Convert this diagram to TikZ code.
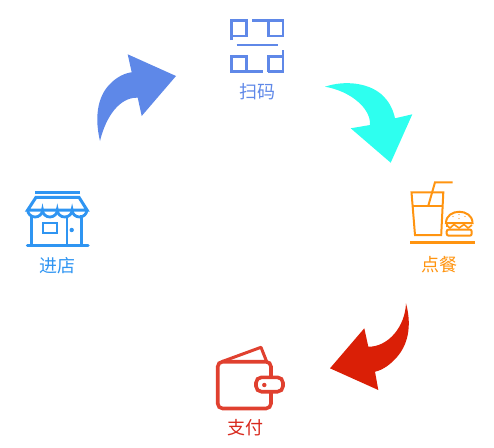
\documentclass[tikz,border=0pt]{standalone}
\usepackage{fontspec}
\newfontfamily\cjk{Noto Sans CJK SC}
\definecolor{qrc}{HTML}{5F88E8}
\definecolor{storec}{HTML}{2F95F2}
\definecolor{foodc}{HTML}{FF9410}
\definecolor{walletc}{HTML}{E0402F}
\definecolor{payc}{HTML}{D8281C}
\definecolor{cyanc}{HTML}{2EFFEF}
\definecolor{redc}{HTML}{DA1F06}
\definecolor{bluec}{HTML}{5E88E8}
\tikzset{lbl/.style={font=\cjk\fontsize{18}{20}\selectfont,inner sep=0pt,anchor=center}}
\begin{document}
\begin{tikzpicture}[x=1pt,y=-1pt,line join=miter]
\useasboundingbox (0,0) rectangle (494,447);
% arrows
\fill[bluec] (100,141) .. controls (95,120) and (96,97) .. (111,83) .. controls (117,77) and (125,73) .. (131.7,72.3)
  -- (127.7,54.3) -- (176,76) -- (141.7,116) -- (137.7,97.7) .. controls (120,97) and (106,116) .. cycle;
\fill[cyanc] (325,86.7) .. controls (345,80) and (368,83) .. (381,94) .. controls (389,101) and (393,109) .. (395,118.3)
  -- (412.3,114.3) -- (390.7,162.7) -- (350.7,128.3) -- (370,125) .. controls (371,108) and (350,91) .. cycle;
\fill[redc] (406,303.3) .. controls (411,322) and (410,342) .. (397,357) .. controls (391,364) and (383,370) .. (375,371.7)
  -- (378.3,390) -- (330,368.3) -- (364.3,328.3) -- (368.3,346.7) .. controls (388,347) and (405,327) .. cycle;
% QR icon
\begin{scope}[draw=qrc,line width=2.8pt]
\draw (231.7,40) -- (231.7,20.7) -- (246.7,20.7) -- (246.7,36) -- (231.7,36);
\draw (252,20.7) -- (283,20.7) -- (283,36) -- (268.3,36) -- (268.3,20.7);
\draw[line width=2pt] (236.7,45) -- (278,45);
\draw (231.7,56.7) rectangle (246.7,71.7);
\draw (246.7,71.7) -- (263,71.7);
\draw (268.3,71.7) -- (283,71.7) -- (283,50);
\draw (283,56.7) -- (268.3,56.7) -- (268.3,71.7);
\end{scope}
\node[lbl,text=qrc] (scan) at (257,92) {扫码};
% store icon
\begin{scope}[draw=storec,line width=2.8pt]
\draw[line width=3pt] (35,192.3) -- (80,192.3);
\draw[line width=3pt] (27.7,210) -- (36,197.3) -- (79,197.3) -- (87,210) -- cycle;
\draw (27.7,210) arc[start angle=180,end angle=0,x radius=7.4,y radius=7]
  arc[start angle=180,end angle=0,x radius=7.4,y radius=7]
  arc[start angle=180,end angle=0,x radius=7.4,y radius=7]
  arc[start angle=180,end angle=0,x radius=7.4,y radius=7];
\draw (31.7,215) -- (31.7,245) (81.7,215) -- (81.7,245);
\draw[line width=2pt] (66.7,217) -- (66.7,245);
\draw[line width=2pt] (43.3,223.3) rectangle (57.3,233.3);
\fill[storec] (71.7,230) circle (2.2);
\draw[line width=3.5pt,line cap=round] (27.5,245.7) -- (88,245.7);
\end{scope}
\node[lbl,text=storec] (enter) at (57,266) {进店};
% food icon
\begin{scope}[draw=foodc,line width=2pt]
\draw (411.5,192.3) -- (443.3,192.3) -- (441.2,235) -- (415,235) -- cycle;
\draw (413,205.7) -- (441.8,205.7);
\draw (428.3,205.7) -- (435,182.3) -- (452.7,182.3);
\draw[line width=3pt] (410,242.7) -- (475,242.7);
\draw (446,223) .. controls (446,208) and (472.5,208) .. (472.5,223) -- cycle;
\draw (446.5,223) -- (446.5,227);
\draw[line width=1.6pt] (446.5,225) -- (450,228) -- (454,224.5) -- (459,228) -- (464,224.5) -- (468,228) -- (472,225);
\draw[rounded corners=2pt] (446.7,229.5) rectangle (471.7,235.7);
\fill[foodc] (453,216.5) circle (.7) (459,214.5) circle (.7) (465,216.5) circle (.7) (459,218.5) circle (.7);
\end{scope}
\node[lbl,text=foodc] (order) at (439,265) {点餐};
% wallet icon
\begin{scope}[draw=walletc,line width=3.6pt]
\draw[line width=3pt,line join=round] (221.7,361.7) -- (261,347.3) -- (266.7,361.7);
\draw[rounded corners=5pt] (217.7,361.7) rectangle (271,408.5);
\draw[rounded corners=5.5pt,fill=white] (256,377.3) rectangle (283,391.7);
\fill[walletc] (264.3,385) circle (2.2);
\end{scope}
\node[lbl,text=payc] (pay) at (245,428) {支付};
\end{tikzpicture}
\end{document}
